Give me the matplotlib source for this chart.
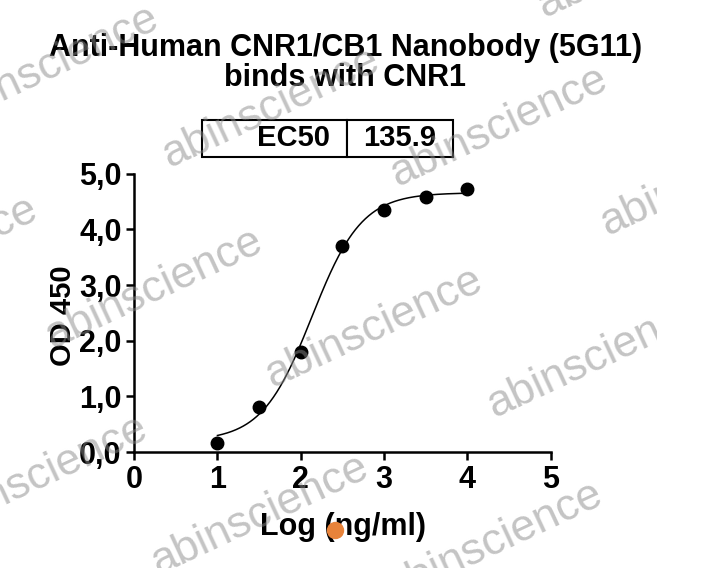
import matplotlib
matplotlib.use("Agg")
import matplotlib.pyplot as plt
import numpy as np
from matplotlib.lines import Line2D
from matplotlib.transforms import Bbox, TransformedBbox

plt.rcParams['font.family'] = ['Liberation Sans', 'DejaVu Sans']

# data
log_conc = [1.0, 1.5, 2.0, 2.5, 3.0, 3.5, 4.0]
od450 = [0.16, 0.81, 1.80, 3.70, 4.35, 4.58, 4.72]
ec50 = 135.9
# 4PL fit parameters
bottom, top, hill = 0.20, 4.66, 1.45

x_ticks = [0, 1, 2, 3, 4, 5]
y_ticks = [0, 1, 2, 3, 4, 5]
y_ticklabels = ["0,0", "1,0", "2,0", "3,0", "4,0", "5,0"]

fig = plt.figure(figsize=(7.06, 5.68), dpi=100)
ax = fig.add_axes([0.190, 0.204, 0.590, 0.490])

xf = np.linspace(min(log_conc), max(log_conc), 300)
yf = bottom + (top - bottom) / (1 + 10 ** ((np.log10(ec50) - xf) * hill))
ax.plot(xf, yf, color='k', linewidth=1.1, zorder=2)
ax.plot(log_conc, od450, 'o', color='k', markersize=9, clip_on=False, zorder=3)

ax.set_xlim(0, 5)
ax.set_ylim(0, 5)
ax.set_xticks(x_ticks)
ax.set_yticks(y_ticks)
ax.set_yticklabels(y_ticklabels)
for lab in ax.get_xticklabels() + ax.get_yticklabels():
    lab.set_fontweight('bold')
    lab.set_fontsize(22)
ax.tick_params(direction='out', length=6, width=1.8, pad=3)
for s in ['top', 'right']:
    ax.spines[s].set_visible(False)
for s in ['left', 'bottom']:
    ax.spines[s].set_linewidth(1.8)

ax.set_xlabel("Log (ng/ml)", fontsize=22, fontweight='bold', va='top')
ax.xaxis.set_label_coords(0.501, -0.215)
ax.set_ylabel("OD 450", fontsize=21, fontweight='bold')
ax.yaxis.set_label_coords(-0.136, 0.49)

fig.text(0.489, 1 - 56 / 568, "Anti-Human CNR1/CB1 Nanobody (5G11)",
         ha='center', va='baseline', fontsize=22, fontweight='bold')
fig.text(0.489, 1 - 86 / 568, "binds with CNR1",
         ha='center', va='baseline', fontsize=22, fontweight='bold')

# EC50 box
tab = ax.table(cellText=[["EC50", str(ec50)]], colWidths=[145, 106],
               bbox=[0.163, 1.061, 0.602, 0.133], cellLoc='center')
tab.auto_set_font_size(False)
for (r, c), cell in tab.get_celld().items():
    cell.set_linewidth(1.5)
    cell.get_text().set_fontsize(21)
    cell.get_text().set_fontweight('bold')
    if c == 0:
        cell.get_text().set_ha('right')
        cell.PAD = 0.12

# watermarks (pixel centres, y measured from top), clipped at x=657 px
clip = TransformedBbox(Bbox([[0, 0], [657 / 706, 1]]), fig.transFigure)
marks = [(50, 66), (271, 108), (499, 127), (646, -42), (709, 176), (-71, 257),
         (154, 289), (374, 328), (596, 358), (39, 476), (260, 515), (494, 542)]
for px, py in marks:
    t = fig.text(px / 706, 1 - py / 568, "abinscience", fontsize=32, color='#8a8a8a',
                 alpha=0.5, rotation=25, ha='center', va='center',
                 rotation_mode='anchor', zorder=10)
    t.set_clip_box(clip)
    t.set_clip_on(True)

fig.add_artist(Line2D([335 / 706], [1 - 530 / 568], marker='o', markersize=11.5,
                      color='#E8833A', transform=fig.transFigure, zorder=11))

fig.savefig("out.png", dpi=100)
